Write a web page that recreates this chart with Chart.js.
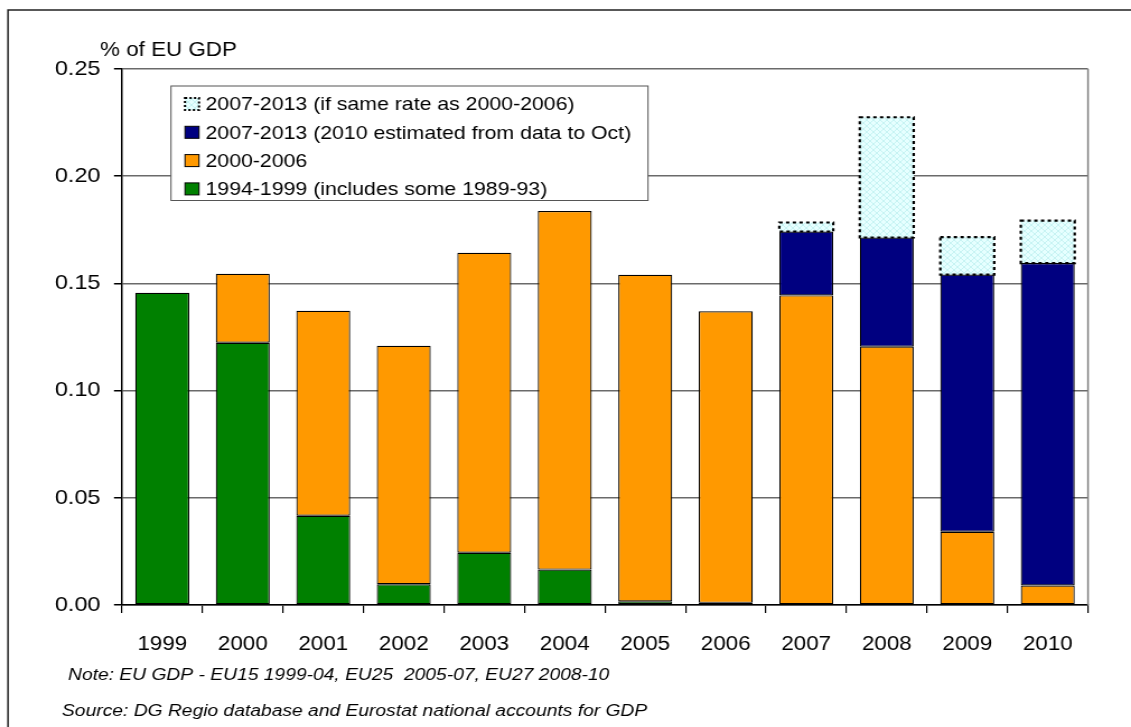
<!DOCTYPE html>
<html>
<head>
<meta charset="utf-8">
<script src="https://cdn.jsdelivr.net/npm/chart.js@4.4.0/dist/chart.umd.min.js"></script>
<style>
  html, body { margin: 0; padding: 0; background: #fff; overflow: hidden; }
  /* the original picture is stretched sideways, so the canvas is too */
  #chart { display: block; transform: scaleX(1.1198); transform-origin: 0 0; }
</style>
</head>
<body>
<canvas id="chart" width="1010" height="727"></canvas>
<script>
const years = ['1999', '2000', '2001', '2002', '2003', '2004', '2005', '2006', '2007', '2008', '2009', '2010'];

// stacked pieces, % of EU GDP
const green9499 = [0.1456, 0.1223, 0.0416, 0.0097, 0.0244, 0.0165, 0.0017, 0.0010, null, null, null, null];
const orange0006 = [null, 0.0322, 0.0956, 0.1112, 0.1399, 0.1673, 0.1523, 0.1360, 0.1444, 0.1205, 0.0342, 0.0091];
const navy0713 = [null, null, null, null, null, null, null, null, 0.0298, 0.0509, 0.1199, 0.1504];
const sameRate0713 = [null, null, null, null, null, null, null, null, 0.0042, 0.0561, 0.0175, 0.0198];

const yTicks = [0, 0.05, 0.10, 0.15, 0.20, 0.25];

const seriesNames = [
  '1994-1999 (includes some 1989-93)',
  '2000-2006',
  '2007-2013 (2010 estimated from data to Oct)',
  '2007-2013 (if same rate as 2000-2006)'
];

const SX = 1131 / 1010;
const FONT = "'Liberation Sans', Arial, sans-serif";

const canvas = document.getElementById('chart');
const ctx = canvas.getContext('2d');

function makeHatch() {
  const c = document.createElement('canvas');
  c.width = 6; c.height = 6;
  const g = c.getContext('2d');
  g.fillStyle = '#e6ffff';
  g.fillRect(0, 0, 6, 6);
  g.strokeStyle = '#c6f3f3';
  g.lineWidth = 1;
  g.beginPath();
  g.moveTo(0, 0); g.lineTo(6, 6);
  g.moveTo(6, 0); g.lineTo(0, 6);
  g.stroke();
  return ctx.createPattern(c, 'repeat');
}
const hatch = makeHatch();

const colors = ['#008000', '#ff9900', '#000080', hatch];

// dotted outline round the "same rate" pieces
const dottedBars = {
  id: 'dottedBars',
  afterDatasetsDraw(chart) {
    const meta = chart.getDatasetMeta(3);
    const c = chart.ctx;
    c.save();
    c.strokeStyle = '#000';
    c.lineWidth = 2.2;
    c.setLineDash([3, 3]);
    meta.data.forEach((bar, i) => {
      if (sameRate0713[i] == null) return;
      const p = bar.getProps(['x', 'y', 'base', 'width'], true);
      c.strokeRect(p.x - p.width / 2, p.y, p.width, p.base - p.y);
    });
    c.restore();
  }
};

const frame = {
  id: 'frame',
  afterDraw(chart) {
    const c = chart.ctx;
    const a = chart.chartArea;
    c.save();
    // plot area right edge
    c.strokeStyle = '#808080';
    c.lineWidth = 1.5;
    c.beginPath();
    c.moveTo(a.right, a.top);
    c.lineTo(a.right, a.bottom);
    c.stroke();

    // outer border
    c.strokeStyle = '#222';
    c.lineWidth = 1.5;
    c.beginPath();
    c.moveTo(8 / SX, 740);
    c.lineTo(8 / SX, 10);
    c.lineTo(1020, 10);
    c.stroke();

    c.fillStyle = '#000';
    c.textBaseline = 'middle';
    c.textAlign = 'left';
    c.font = '20px ' + FONT;
    c.fillText('% of EU GDP', 100 / SX, 50);

    c.font = 'italic 17.2px ' + FONT;
    c.fillText('Note: EU GDP - EU15 1999-04, EU25  2005-07, EU27 2008-10', 68 / SX, 675);
    c.fillText('Source: DG Regio database and Eurostat national accounts for GDP', 62 / SX, 711);

    // legend box
    const bx = 171 / SX, by = 86, bw = (648 - 171) / SX, bh = 114.5;
    c.fillStyle = '#fff';
    c.fillRect(bx, by, bw, bh);
    c.strokeStyle = '#555';
    c.lineWidth = 1;
    c.strokeRect(bx, by, bw, bh);

    const rows = [3, 2, 1, 0];
    rows.forEach((ds, r) => {
      const cy = 104 + r * 28.3;
      const sx = 185 / SX, sw = 14 / SX, sh = 12;
      c.fillStyle = colors[ds];
      c.fillRect(sx, cy - sh / 2, sw, sh);
      c.strokeStyle = '#000';
      if (ds === 3) {
        c.lineWidth = 2;
        c.setLineDash([2, 2]);
      } else {
        c.lineWidth = 1;
        c.setLineDash([]);
      }
      c.strokeRect(sx, cy - sh / 2, sw, sh);
      c.setLineDash([]);
      c.fillStyle = '#000';
      c.font = '19px ' + FONT;
      c.fillText(seriesNames[ds], 205.5 / SX, cy + 1);
    });
    c.restore();
  }
};

function barSet(i, values) {
  return {
    label: seriesNames[i],
    data: values,
    backgroundColor: colors[i],
    borderColor: '#000',
    borderWidth: i === 3 ? 0 : 1.2,
    borderSkipped: false,
    categoryPercentage: 1,
    barPercentage: 0.67
  };
}

new Chart(ctx, {
  type: 'bar',
  data: {
    labels: years,
    datasets: [
      barSet(0, green9499),
      barSet(1, orange0006),
      barSet(2, navy0713),
      barSet(3, sameRate0713)
    ]
  },
  options: {
    responsive: false,
    animation: false,
    events: [],
    layout: {
      padding: { top: 69, right: 1010 - 1088 / SX, bottom: 727 - 605 - 60, left: 0 }
    },
    plugins: {
      legend: { display: false },
      tooltip: { enabled: false },
      title: { display: false }
    },
    scales: {
      x: {
        stacked: true,
        grid: {
          offset: true,
          drawOnChartArea: false,
          drawTicks: true,
          tickLength: 8,
          color: '#000',
          lineWidth: 1.2
        },
        border: { display: true, color: '#000', width: 1.5 },
        ticks: {
          color: '#000',
          padding: 19,
          font: { size: 20, family: FONT }
        },
        afterFit(scale) { scale.height = 60; }
      },
      y: {
        stacked: true,
        min: 0,
        max: 0.25,
        afterBuildTicks(scale) {
          scale.ticks = yTicks.map(v => ({ value: v }));
        },
        grid: {
          color: '#6a6a6a',
          lineWidth: 1.5,
          drawTicks: true,
          tickLength: 8 / SX,
          tickColor: '#000'
        },
        border: { display: true, color: '#000', width: 1.5 },
        ticks: {
          color: '#000',
          padding: 12,
          font: { size: 21, family: FONT },
          callback: v => Number(v).toFixed(2)
        },
        afterFit(scale) { scale.width = 122 / SX; }
      }
    }
  },
  plugins: [dottedBars, frame]
});
</script>
</body>
</html>
